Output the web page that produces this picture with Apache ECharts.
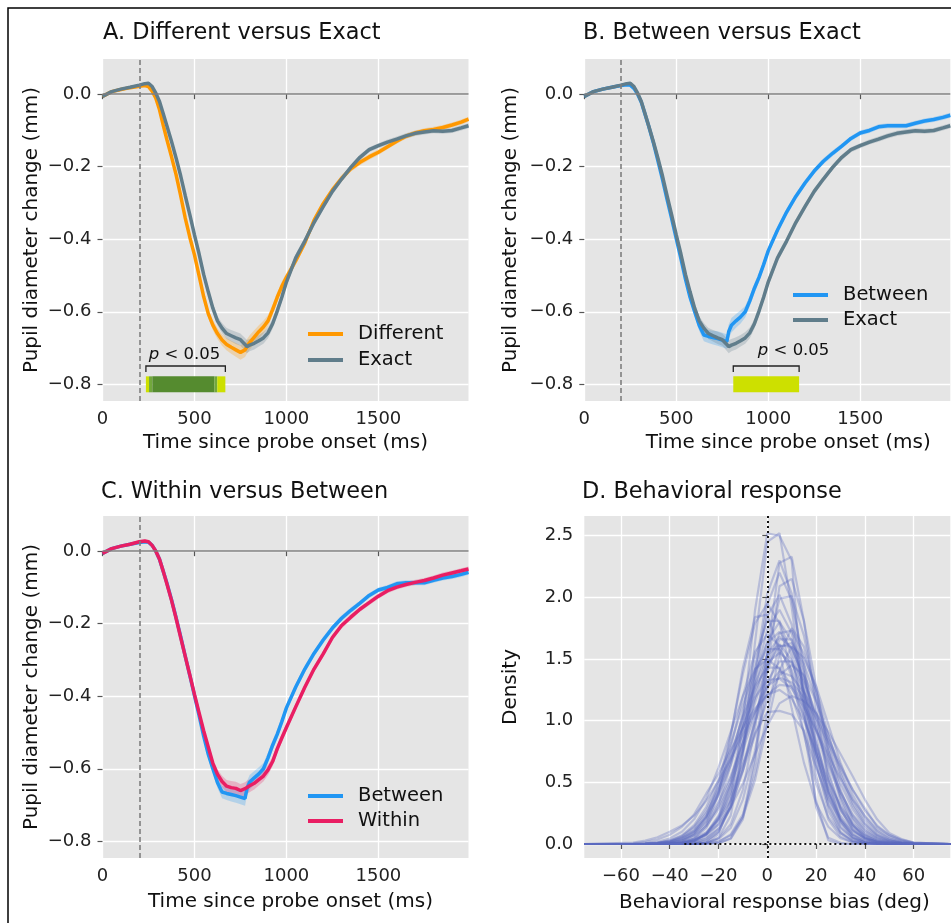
<!DOCTYPE html>
<html><head><meta charset="utf-8">
<script src="https://cdn.jsdelivr.net/npm/echarts@6.0.0/dist/echarts.min.js"></script>
<style>html,body{margin:0;padding:0;background:#fff}#c{width:951px;height:923px}</style>
</head><body><div id="c"></div>
<script>
// ---------- data ----------
const timeMs = [0,50,100,150,200,230,250,270,290,310,
  330,350,375,400,425,450,475,500,525,550,
  575,600,625,650,675,700,725,750,775,785,
  800,825,850,875,900,925,950,975,1000,1050,
  1100,1150,1200,1250,1300,1350,1400,1450,1500,1550,
  1600,1650,1700,1750,1800,1850,1900,1950,1990];

const differentMean = [-0.006,0.007,0.013,0.018,0.022,0.024,0.021,0.008,-0.011,-0.043,
  -0.085,-0.125,-0.172,-0.222,-0.280,-0.342,-0.395,-0.443,-0.500,-0.558,
  -0.605,-0.637,-0.660,-0.678,-0.690,-0.698,-0.705,-0.712,-0.705,-0.696,
  -0.685,-0.670,-0.655,-0.642,-0.625,-0.594,-0.560,-0.530,-0.505,-0.460,
  -0.410,-0.348,-0.302,-0.264,-0.232,-0.206,-0.188,-0.173,-0.160,-0.145,
  -0.130,-0.116,-0.107,-0.101,-0.097,-0.092,-0.085,-0.077,-0.069];
const differentSE = [0.003,0.003,0.004,0.004,0.004,0.004,0.004,0.005,0.005,0.006,
  0.006,0.007,0.007,0.008,0.008,0.009,0.009,0.010,0.011,0.012,
  0.013,0.014,0.015,0.016,0.017,0.018,0.019,0.020,0.020,0.020,
  0.020,0.019,0.018,0.017,0.016,0.015,0.014,0.013,0.012,0.011,
  0.010,0.010,0.009,0.009,0.009,0.008,0.008,0.008,0.008,0.007,
  0.007,0.007,0.007,0.007,0.007,0.007,0.007,0.007,0.007];

const exactMean = [-0.006,0.007,0.014,0.019,0.025,0.029,0.030,0.021,0.003,-0.020,
  -0.053,-0.087,-0.130,-0.176,-0.225,-0.280,-0.333,-0.388,-0.440,-0.497,
  -0.545,-0.590,-0.625,-0.645,-0.660,-0.666,-0.672,-0.677,-0.690,-0.696,
  -0.692,-0.687,-0.680,-0.672,-0.658,-0.633,-0.598,-0.560,-0.518,-0.452,
  -0.405,-0.354,-0.310,-0.268,-0.234,-0.202,-0.174,-0.153,-0.142,-0.132,
  -0.124,-0.115,-0.108,-0.104,-0.101,-0.102,-0.100,-0.093,-0.087];
const exactSE = [0.003,0.003,0.004,0.004,0.004,0.004,0.004,0.004,0.005,0.005,
  0.006,0.006,0.007,0.007,0.008,0.008,0.009,0.009,0.010,0.010,
  0.011,0.012,0.013,0.014,0.015,0.016,0.017,0.017,0.018,0.018,
  0.017,0.017,0.016,0.016,0.015,0.014,0.013,0.012,0.012,0.011,
  0.010,0.010,0.009,0.009,0.008,0.008,0.008,0.007,0.007,0.007,
  0.007,0.007,0.007,0.007,0.007,0.007,0.007,0.007,0.007];

const betweenMean = [-0.006,0.007,0.014,0.019,0.024,0.026,0.025,0.016,0.000,-0.022,
  -0.055,-0.088,-0.133,-0.183,-0.235,-0.290,-0.343,-0.398,-0.453,-0.510,
  -0.560,-0.600,-0.638,-0.664,-0.668,-0.671,-0.674,-0.678,-0.682,-0.655,
  -0.637,-0.625,-0.614,-0.600,-0.570,-0.535,-0.505,-0.470,-0.432,-0.375,
  -0.325,-0.282,-0.245,-0.212,-0.185,-0.163,-0.143,-0.122,-0.107,-0.100,
  -0.090,-0.087,-0.087,-0.087,-0.080,-0.074,-0.070,-0.064,-0.058];
const betweenSE = [0.003,0.003,0.004,0.004,0.004,0.004,0.004,0.004,0.005,0.005,
  0.006,0.006,0.007,0.007,0.008,0.008,0.009,0.009,0.010,0.011,
  0.012,0.013,0.015,0.017,0.018,0.019,0.020,0.020,0.020,0.020,
  0.020,0.019,0.018,0.016,0.015,0.014,0.013,0.012,0.011,0.010,
  0.010,0.009,0.009,0.008,0.008,0.008,0.007,0.007,0.007,0.007,
  0.007,0.007,0.007,0.007,0.007,0.007,0.007,0.007,0.007];

const withinMean = [-0.006,0.007,0.014,0.019,0.026,0.028,0.026,0.016,0.000,-0.022,
  -0.055,-0.090,-0.135,-0.185,-0.238,-0.290,-0.342,-0.395,-0.445,-0.495,
  -0.540,-0.585,-0.615,-0.635,-0.648,-0.652,-0.654,-0.660,-0.655,-0.651,
  -0.647,-0.640,-0.630,-0.620,-0.603,-0.580,-0.545,-0.515,-0.486,-0.430,
  -0.375,-0.325,-0.283,-0.238,-0.205,-0.182,-0.160,-0.142,-0.124,-0.109,
  -0.099,-0.092,-0.086,-0.081,-0.074,-0.066,-0.060,-0.054,-0.049];
const withinSE = [0.003,0.003,0.004,0.004,0.004,0.004,0.004,0.004,0.005,0.005,
  0.006,0.006,0.007,0.007,0.008,0.008,0.009,0.009,0.010,0.011,
  0.012,0.013,0.014,0.016,0.017,0.018,0.018,0.018,0.018,0.018,
  0.018,0.017,0.016,0.015,0.014,0.013,0.012,0.012,0.011,0.010,
  0.010,0.009,0.009,0.008,0.008,0.008,0.007,0.007,0.007,0.007,
  0.007,0.007,0.007,0.007,0.007,0.007,0.007,0.007,0.007];

const probeLineMs = 200;
const pupilXTicks = [0, 500, 1000, 1500];
const pupilYTicks = [-0.8, -0.6, -0.4, -0.2, 0.0];

// significance clusters: [startMs, endMs, level] (1: p<.05, 2: p<.01, 3: p<.001)
const sigSegmentsA = [[236,253,1],[253,271,2],[271,608,3],[608,624,2],[624,668,1]];
const sigSegmentsB = [[810,1168,1]];

const biasGrid = [-75,-55,-50,-45,-40,-35,-30,-25,-20,-15,-10,-5,0,5,10,15,20,25,30,35,40,45,50,55,60,75];
const biasXTicks = [-60,-40,-20,0,20,40,60];
const densityYTicks = [0,0.5,1,1.5,2,2.5];
const densityCurves = [
  [0,0,0,0,0,0,0,0.01,0.08,0.35,1.0,1.9,2.52,2.5,2.3,1.1,0.3,0.05,0.01,0,0,0,0,0,0,0],
  [0,0,0,0,0,0,0,0.007,0.05,0.23,0.75,1.64,2.45,2.52,1.92,1.16,0.55,0.2,0.06,0.013,0.005,0,0,0,0,0],
  [0,0,0,0,0,0,0,0,0.006,0.046,0.22,0.71,1.55,2.28,2.33,1.81,1.10,0.52,0.19,0.055,0.012,0.005,0,0,0,0],
  [0,0,0,0,0,0,0.005,0.025,0.10,0.31,0.75,1.40,2.03,2.3,2.03,1.40,0.75,0.31,0.10,0.025,0.005,0,0,0,0,0],
  [0,0,0,0,0,0,0,0,0.006,0.042,0.20,0.65,1.42,2.09,2.15,1.81,1.28,0.76,0.38,0.16,0.055,0.017,0.004,0,0,0],
  [0,0,0,0,0,0,0.003,0.01,0.047,0.16,0.44,0.94,1.55,1.99,2.01,1.69,1.19,0.71,0.35,0.15,0.05,0.016,0.004,0,0,0],
  [0,0,0,0,0.002,0.008,0.028,0.089,0.23,0.50,0.93,1.43,1.85,2.02,1.78,1.23,0.66,0.27,0.089,0.022,0.004,0,0,0,0,0],
  [0,0,0,0.002,0.008,0.027,0.086,0.22,0.49,0.89,1.38,1.79,1.95,1.79,1.38,0.89,0.49,0.22,0.086,0.027,0.008,0.002,0,0,0,0],
  [0,0,0,0,0.004,0.014,0.046,0.13,0.32,0.64,1.07,1.52,1.81,1.81,1.52,1.07,0.64,0.32,0.13,0.046,0.014,0.004,0,0,0,0],
  [0,0,0,0,0.002,0.007,0.025,0.079,0.21,0.45,0.82,1.27,1.65,1.8,1.65,1.27,0.82,0.45,0.21,0.079,0.025,0.007,0.002,0,0,0],
  [0,0,0,0,0,0.004,0.013,0.044,0.126,0.30,0.60,1.02,1.44,1.71,1.73,1.54,1.24,0.89,0.57,0.33,0.17,0.077,0.032,0.012,0.004,0],
  [0,0,0.002,0.007,0.019,0.05,0.11,0.23,0.43,0.71,1.04,1.38,1.63,1.72,1.58,1.22,0.79,0.43,0.20,0.076,0.024,0.007,0.002,0,0,0],
  [0,0,0,0,0.002,0.007,0.024,0.074,0.19,0.42,0.77,1.19,1.54,1.68,1.59,1.35,1.02,0.69,0.42,0.23,0.11,0.049,0.018,0.007,0.002,0],
  [0,0,0,0.003,0.011,0.029,0.072,0.16,0.30,0.53,0.82,1.15,1.44,1.61,1.60,1.34,0.95,0.56,0.28,0.117,0.041,0.012,0.003,0,0,0],
  [0,0.001,0.003,0.011,0.029,0.07,0.154,0.30,0.52,0.81,1.13,1.41,1.58,1.58,1.41,1.13,0.81,0.52,0.30,0.154,0.07,0.029,0.011,0.003,0.001,0],
  [0,0,0.002,0.006,0.017,0.045,0.10,0.21,0.39,0.64,0.94,1.24,1.47,1.55,1.47,1.24,0.94,0.64,0.39,0.21,0.10,0.045,0.017,0.006,0.002,0],
  [0,0,0.001,0.003,0.01,0.027,0.066,0.144,0.28,0.49,0.76,1.06,1.32,1.48,1.48,1.32,1.06,0.76,0.49,0.28,0.144,0.066,0.027,0.01,0.003,0],
  [0,0,0,0.002,0.006,0.016,0.042,0.096,0.196,0.36,0.60,0.88,1.16,1.37,1.45,1.37,1.16,0.88,0.60,0.36,0.196,0.096,0.042,0.016,0.006,0],
  [0,0,0.002,0.005,0.015,0.039,0.089,0.18,0.34,0.55,0.82,1.08,1.28,1.35,1.31,1.19,1.02,0.82,0.62,0.44,0.29,0.14,0.07,0.03,0.01,0],
  [0,0.012,0.027,0.055,0.10,0.15,0.23,0.35,0.51,0.69,0.89,1.07,1.21,1.29,1.28,1.15,0.92,0.66,0.42,0.24,0.125,0.057,0.023,0.009,0.003,0],
  [0,0.006,0.016,0.036,0.075,0.14,0.24,0.41,0.57,0.76,0.94,1.10,1.21,1.25,1.18,1.0,0.76,0.51,0.31,0.17,0.083,0.036,0.014,0.005,0.002,0],
  [0,0,0,0.001,0.005,0.013,0.035,0.079,0.16,0.30,0.49,0.73,0.96,1.14,1.2,1.16,1.06,0.91,0.73,0.55,0.36,0.2,0.09,0.04,0.012,0],
  [0,0,0,0,0,0.01,0.03,0.08,0.2,0.4,0.65,0.9,1.07,1.08,1.05,0.92,0.35,0.03,0,0,0,0,0,0,0,0],
  [0,0,0,0.002,0.007,0.024,0.075,0.19,0.42,0.78,1.20,1.56,1.7,1.61,1.36,1.03,0.70,0.42,0.23,0.11,0.049,0.019,0.007,0.002,0,0],
  [0,0,0,0,0.002,0.01,0.044,0.15,0.41,0.87,1.43,1.84,1.86,1.56,1.10,0.66,0.33,0.14,0.048,0.014,0.004,0,0,0,0,0],
  [0,0,0,0,0,0,0.002,0.008,0.038,0.13,0.36,0.76,1.25,1.60,1.63,1.46,1.17,0.83,0.54,0.31,0.16,0.073,0.03,0.011,0.003,0],
  [0,0,0,0,0,0,0,0.004,0.018,0.07,0.22,0.52,0.97,1.41,1.6,1.51,1.28,0.97,0.66,0.40,0.22,0.106,0.046,0.018,0.006,0],
  [0,0,0,0,0.001,0.005,0.02,0.062,0.16,0.35,0.64,0.99,1.28,1.4,1.36,1.23,1.06,0.85,0.64,0.44,0.27,0.15,0.075,0.035,0.012,0],
  [0,0,0.002,0.006,0.018,0.047,0.107,0.22,0.40,0.67,0.98,1.30,1.53,1.62,1.49,1.15,0.74,0.40,0.18,0.071,0.023,0.006,0.002,0,0,0],
  [0,0,0,0,0,0.003,0.013,0.043,0.12,0.29,0.59,0.99,1.40,1.66,1.66,1.40,0.99,0.59,0.29,0.12,0.043,0.013,0.003,0,0,0],
  [0,0,0.003,0.009,0.024,0.059,0.13,0.25,0.44,0.68,0.95,1.19,1.33,1.34,1.26,1.11,0.92,0.72,0.53,0.36,0.23,0.12,0.06,0.025,0.008,0],
  [0,0,0,0,0,0,0,0.004,0.019,0.077,0.24,0.57,1.06,1.54,1.75,1.60,1.24,0.80,0.44,0.20,0.077,0.025,0.007,0.002,0,0],
  [0,0,0,0,0.002,0.007,0.027,0.084,0.22,0.47,0.87,1.34,1.74,1.9,1.71,1.25,0.74,0.36,0.14,0.046,0.012,0.002,0,0,0,0],
  [0,0,0.003,0.01,0.026,0.064,0.14,0.27,0.47,0.73,1.03,1.28,1.43,1.43,1.28,1.03,0.73,0.47,0.27,0.14,0.064,0.026,0.01,0.003,0,0],
  [0,0,0,0,0,0,0.004,0.024,0.097,0.30,0.72,1.34,1.94,2.2,1.98,1.46,0.87,0.42,0.17,0.053,0.013,0.002,0,0,0,0],
  [0,0.002,0.006,0.017,0.044,0.099,0.2,0.37,0.62,0.91,1.20,1.42,1.5,1.42,1.20,0.91,0.62,0.37,0.2,0.099,0.044,0.017,0.006,0.002,0,0]
];

// ---------- style / layout ----------
const FONT = "'DejaVu Sans', sans-serif";
const COLORS = {Different:'#FF9800', Exact:'#607D8B', Between:'#2196F3', Within:'#E91E63'};
const SIG_COLORS = {1:'#CDE000', 2:'#72A83C', 3:'#558B2F'};
const GRID_POS = [[102.5,59],[584.3,59],[102.5,516],[584.3,516]];
const GW = 366, GH = 342;
const Y_MIN = -0.846, Y_MAX = 0.097;
const SIG_Y = -0.8, SIG_HALF = 0.022, BR_Y = -0.7495, BR_TICK = -0.766;

const fmt1 = v => (v < 0 ? '\u2212' : '') + Math.abs(v).toFixed(1);
const fmt0 = v => (v < 0 ? '\u2212' : '') + Math.abs(v);

function tickAxisCommon(ticks, formatter, margin) {
  return {
    axisLine: {show: false},
    axisTick: {show: true, length: 5, lineStyle: {color: '#555', width: 1.2}, customValues: ticks},
    axisLabel: {customValues: ticks, formatter, margin, fontSize: 18, color: '#222', fontFamily: FONT},
    splitLine: {show: true, lineStyle: {color: '#fff', width: 1.3}}
  };
}
function xAxisDef(g, min, max, ticks, formatter, name, gap, padLeft) {
  return Object.assign({type: 'value', gridIndex: g, min, max,
    name, nameLocation: 'middle', nameGap: gap,
    nameTextStyle: {fontSize: 20, color: '#111', fontFamily: FONT, padding: [0, 0, 0, padLeft]}},
    tickAxisCommon(ticks, formatter, 9));
}
function yAxisDef(g, min, max, ticks, name, gap) {
  return Object.assign({type: 'value', gridIndex: g, min, max,
    name, nameLocation: 'middle', nameGap: gap,
    nameTextStyle: {fontSize: 20, color: '#111', fontFamily: FONT}},
    tickAxisCommon(ticks, fmt1, 11));
}

// shaded mean +/- SE band, drawn once as a polygon through the axis scales
function bandSeries(g, name, mean, se) {
  const color = COLORS[name];
  return {type: 'custom', name: name + ' band', xAxisIndex: g, yAxisIndex: g, silent: true, z: 1,
    data: timeMs.map((t, i) => [t, mean[i] - se[i], mean[i] + se[i]]),
    encode: {x: 0, y: [1, 2]},
    renderItem: (params, api) => {
      if (params.dataIndex !== 0) return null;
      const upper = timeMs.map((t, i) => api.coord([t, mean[i] + se[i]]));
      const lower = timeMs.map((t, i) => api.coord([t, mean[i] - se[i]])).reverse();
      return {type: 'polygon', shape: {points: upper.concat(lower)},
        style: {fill: color, opacity: 0.25}};
    }};
}
function lineSeries(g, name, mean) {
  const color = COLORS[name];
  return {type: 'line', name, xAxisIndex: g, yAxisIndex: g, symbol: 'none', z: 3,
    lineStyle: {color, width: 3.5}, itemStyle: {color},
    data: timeMs.map((t, i) => [t, mean[i]])};
}
function refLineSeries(g) {
  return {type: 'line', xAxisIndex: g, yAxisIndex: g, data: [], silent: true, z: 0,
    markLine: {silent: true, symbol: ['none', 'none'], label: {show: false}, animation: false,
      data: [
        {yAxis: 0, lineStyle: {color: '#7f7f7f', width: 1.6, type: 'solid'}},
        {xAxis: probeLineMs, lineStyle: {color: '#7f7f7f', width: 1.6, type: [5, 3]}}
      ]}};
}

function sigBarSeries(g, segs) {
  return {type: 'custom', xAxisIndex: g, yAxisIndex: g, data: segs, silent: true, z: 4,
    encode: {x: [0, 1]},
    renderItem: (params, api) => {
      const a = api.coord([api.value(0), SIG_Y + SIG_HALF]);
      const b = api.coord([api.value(1), SIG_Y - SIG_HALF]);
      return {type: 'rect', shape: {x: a[0], y: a[1], width: b[0] - a[0], height: b[1] - a[1]},
        style: {fill: SIG_COLORS[api.value(2)]}};
    }};
}
function bracketSeries(g, segs, labelT, labelY) {
  const s = segs[0][0], e = segs[segs.length - 1][1];
  return {type: 'custom', xAxisIndex: g, yAxisIndex: g, data: [[s, e]], silent: true, z: 4,
    encode: {x: [0, 1]},
    renderItem: (params, api) => {
      const pts = [api.coord([s, BR_TICK]), api.coord([s, BR_Y]), api.coord([e, BR_Y]), api.coord([e, BR_TICK])];
      const tp = api.coord([labelT, labelY]);
      return {type: 'group', children: [
        {type: 'polyline', shape: {points: pts}, style: {stroke: '#222', lineWidth: 1.3, fill: 'none'}},
        {type: 'text', x: tp[0], y: tp[1], style: {
          text: '{i|p} < 0.05', fontSize: 16.5, fontFamily: FONT, fill: '#111',
          align: 'center', verticalAlign: 'middle', textAlign: 'center', textVerticalAlign: 'middle',
          rich: {i: {fontStyle: 'italic', fontSize: 16.5, fontFamily: FONT, fill: '#111'}}}}
      ]};
    }};
}

const series = [];
function panel(g, first, firstMean, firstSE, second, secondMean, secondSE) {
  series.push(refLineSeries(g));
  series.push(bandSeries(g, first, firstMean, firstSE), bandSeries(g, second, secondMean, secondSE));
  series.push(lineSeries(g, first, firstMean), lineSeries(g, second, secondMean));
}
panel(0, 'Different', differentMean, differentSE, 'Exact', exactMean, exactSE);
series.push(sigBarSeries(0, sigSegmentsA), bracketSeries(0, sigSegmentsA, 446, -0.719));
panel(1, 'Between', betweenMean, betweenSE, 'Exact', exactMean, exactSE);
series.push(sigBarSeries(1, sigSegmentsB), bracketSeries(1, sigSegmentsB, 1138, -0.706));
panel(2, 'Between', betweenMean, betweenSE, 'Within', withinMean, withinSE);

densityCurves.forEach((curve, k) => {
  const s = {type: 'line', name: 'subject ' + (k + 1), xAxisIndex: 3, yAxisIndex: 3, symbol: 'none', silent: true, z: 2,
    lineStyle: {color: '#5C6BC0', width: 2.2, opacity: 0.33},
    data: biasGrid.map((x, i) => [x, curve[i]])};
  if (k === densityCurves.length - 1) {
    s.markLine = {silent: true, symbol: ['none', 'none'], label: {show: false}, animation: false,
      data: [
        {xAxis: 0, lineStyle: {color: '#111', width: 2, type: [2, 3], opacity: 1}},
        [{coord: [-34, 0], lineStyle: {color: '#111', width: 2, type: [2, 3], opacity: 1}}, {coord: [41, 0]}]
      ]};
  }
  series.push(s);
});

// ---------- decorations ----------
const graphics = [
  {type: 'rect', silent: true, z: 100, shape: {x: 8, y: 8, width: 1200, height: 1200},
    style: {fill: 'none', stroke: '#000', lineWidth: 1.5}}
];
[['A. Different versus Exact', 103, 33], ['B. Between versus Exact', 583, 33],
 ['C. Within versus Between', 101, 492], ['D. Behavioral response', 582, 492]].forEach(([t, x, y]) => {
  graphics.push({type: 'text', x, y, z: 100, silent: true,
    style: {text: t, font: '22.4px ' + FONT, fill: '#111', textVerticalAlign: 'middle', verticalAlign: 'middle'}});
});
function legendBlock(x0, entries) {
  entries.forEach(([name, y]) => {
    graphics.push({type: 'line', z: 100, silent: true, shape: {x1: x0, y1: y, x2: x0 + 35, y2: y},
      style: {stroke: COLORS[name], lineWidth: 4}});
    graphics.push({type: 'text', x: x0 + 50, y, z: 100, silent: true,
      style: {text: name, font: '19.5px ' + FONT, fill: '#111', textVerticalAlign: 'middle', verticalAlign: 'middle'}});
  });
}
legendBlock(308, [['Different', 334], ['Exact', 360]]);
legendBlock(793, [['Between', 295], ['Exact', 320]]);
legendBlock(308, [['Between', 796], ['Within', 821]]);

const option = {
  animation: false,
  backgroundColor: '#fff',
  grid: GRID_POS.map(([l, t]) => ({left: l, top: t, width: GW, height: GH, show: true, backgroundColor: '#E5E5E5', borderWidth: 0})),
  xAxis: [
    xAxisDef(0, 0, 1990, pupilXTicks, fmt0, 'Time since probe onset (ms)', 32, 0),
    xAxisDef(1, 0, 1990, pupilXTicks, fmt0, 'Time since probe onset (ms)', 32, 42),
    xAxisDef(2, 0, 1990, pupilXTicks, fmt0, 'Time since probe onset (ms)', 33.5, 10),
    xAxisDef(3, -75, 75, biasXTicks, fmt0, 'Behavioral response bias (deg)', 34.5, 14)
  ],
  yAxis: [
    yAxisDef(0, Y_MIN, Y_MAX, pupilYTicks, 'Pupil diameter change (mm)', 61),
    yAxisDef(1, Y_MIN, Y_MAX, pupilYTicks, 'Pupil diameter change (mm)', 64),
    yAxisDef(2, Y_MIN, Y_MAX, pupilYTicks, 'Pupil diameter change (mm)', 61),
    yAxisDef(3, -0.1135, 2.66, densityYTicks, 'Density', 64)
  ],
  series,
  graphic: graphics
};

const chart = echarts.init(document.getElementById('c'), null, {renderer: 'canvas'});
chart.setOption(option);
</script>
</body></html>
